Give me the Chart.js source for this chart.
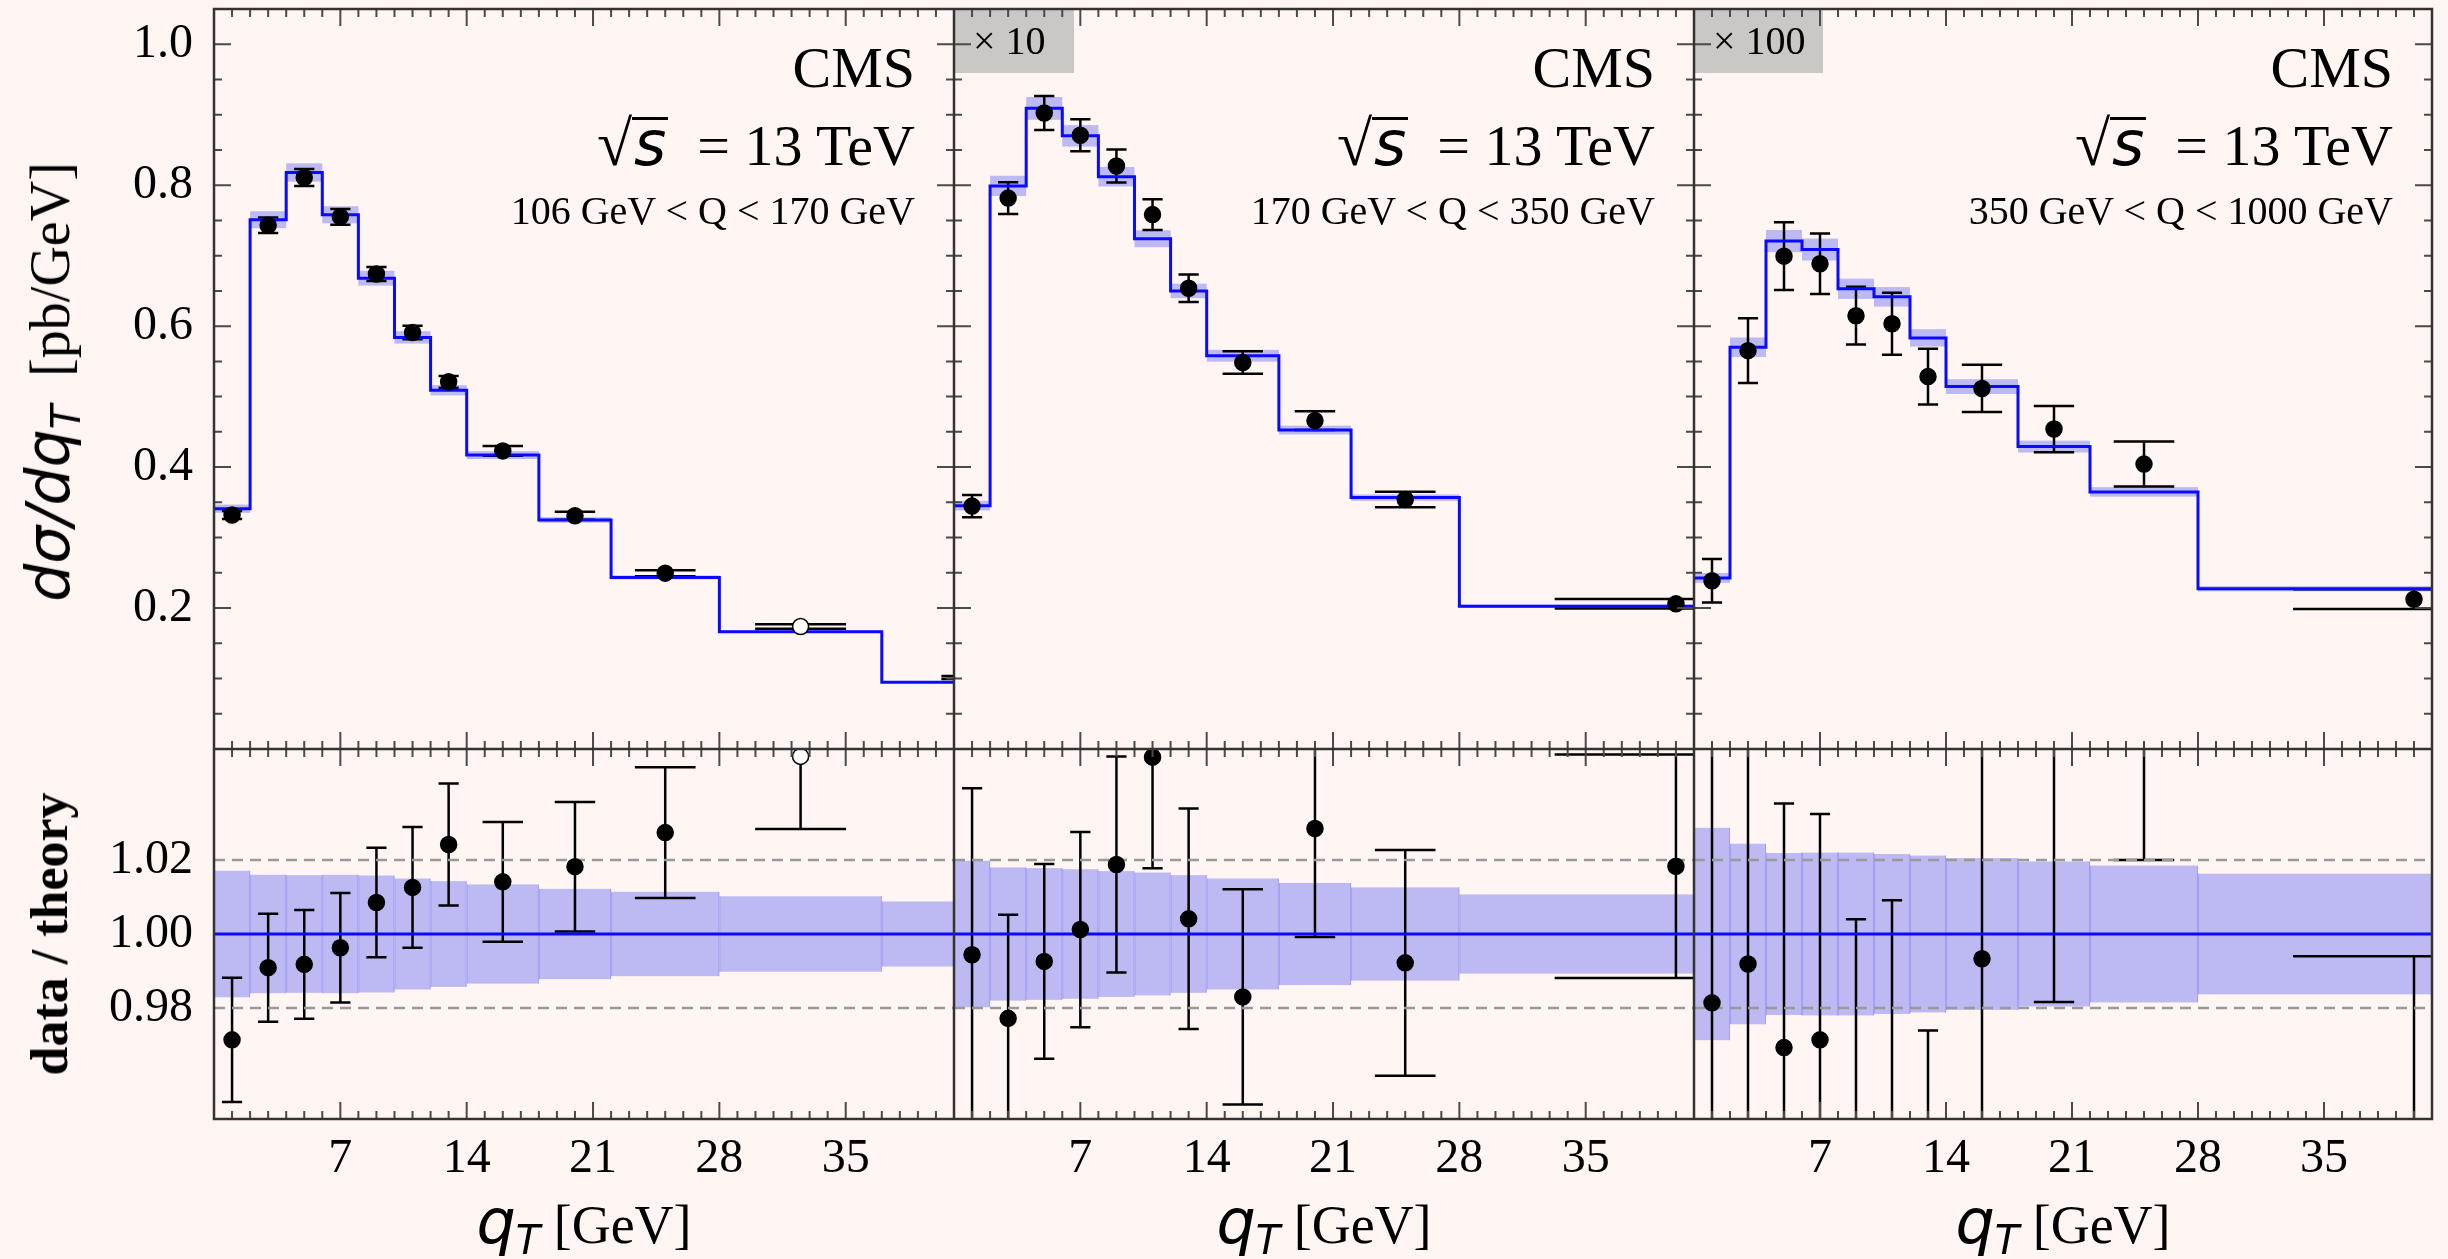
<!DOCTYPE html>
<html>
<head>
<meta charset="utf-8">
<script src="https://cdn.jsdelivr.net/npm/chart.js@4.4.0/dist/chart.umd.min.js"></script>
<style>
  body { margin: 0; background: #fff6f3; width: 2448px; height: 1259px; overflow: hidden; position: relative; font-family: 'Liberation Serif', serif; }
  canvas { position: absolute; z-index: 1; }
  .box { position: absolute; background: #cbc7c5; z-index: 0; }
  .txt { position: absolute; left: 0; top: 0; z-index: 2; white-space: nowrap; line-height: 1; color: #000; }
  .it { font-family: 'DejaVu Sans', sans-serif; font-style: italic; }
  .mk { display: inline-block; width: 0; height: 0; }
  .ovl { display: inline-block; border-top: 3px solid #000; line-height: 0.78em; padding: 0 2px; }
</style>
</head>
<body>
<canvas id="t1" width="954" height="749" style="left:0;top:0"></canvas>
<canvas id="t2" width="740" height="749" style="left:954px;top:0"></canvas>
<canvas id="t3" width="740" height="749" style="left:1694px;top:0"></canvas>
<canvas id="b1" width="954" height="510" style="left:0;top:749px"></canvas>
<canvas id="b2" width="740" height="510" style="left:954px;top:749px"></canvas>
<canvas id="b3" width="740" height="510" style="left:1694px;top:749px"></canvas>
<script>
// q_T bin edges [GeV]
const binEdges1 = [0, 2, 4, 6, 8, 10, 12, 14, 18, 22, 28, 37, 52];
const binEdges23 = [0, 2, 4, 6, 8, 10, 12, 14, 18, 22, 28, 52];

// 106 < Q < 170 GeV
const theory1 = [0.341, 0.751, 0.818, 0.758, 0.668, 0.584, 0.509, 0.417, 0.325, 0.2435, 0.1664, 0.0946];
const data1 = [0.332, 0.743, 0.811, 0.755, 0.674, 0.591, 0.521, 0.423, 0.331, 0.2495, 0.1738, 0.1016];
const dataErr1 = [0.0057, 0.011, 0.012, 0.0112, 0.0099, 0.0095, 0.0084, 0.0068, 0.0057, 0.0043, 0.0033, 0.0021];
const ratio1 = [0.9714, 0.9909, 0.9918, 0.9963, 1.0085, 1.0126, 1.0242, 1.0141, 1.0182, 1.0274, 1.048, null];
const ratioErr1 = [0.0168, 0.0146, 0.0147, 0.0148, 0.0148, 0.0163, 0.0165, 0.0162, 0.0175, 0.0177, 0.0196, null];
const band1 = [0.0171, 0.016, 0.0159, 0.016, 0.0158, 0.015, 0.0143, 0.0134, 0.0122, 0.0114, 0.0102, 0.0088];
const hollow1 = [10];

// 170 < Q < 350 GeV  (x 10)
const theory2 = [0.3453, 0.799, 0.909, 0.870, 0.812, 0.724, 0.650, 0.558, 0.4526, 0.3567, 0.2026];
const data2 = [0.3447, 0.7817, 0.9024, 0.8709, 0.8273, 0.7583, 0.6537, 0.5484, 0.466, 0.3541, 0.206];
const dataErr2 = [0.0158, 0.0225, 0.024, 0.0228, 0.0235, 0.0218, 0.0194, 0.016, 0.0134, 0.011, 0.0067];
const ratio2 = [0.9944, 0.9772, 0.9926, 1.0012, 1.0188, 1.0478, 1.0041, 0.983, 1.0285, 0.9922, 1.0183];
const ratioErr2 = [0.045, 0.028, 0.0263, 0.0264, 0.0292, 0.030, 0.0298, 0.0291, 0.0293, 0.0305, 0.0302];
const band2 = [0.0198, 0.018, 0.0178, 0.0175, 0.017, 0.0166, 0.0159, 0.015, 0.0138, 0.0126, 0.0107];

// 350 < Q < 1000 GeV  (x 100)
const theory3 = [0.2428, 0.570, 0.7207, 0.7087, 0.653, 0.6416, 0.5833, 0.5142, 0.4291, 0.3648, 0.2274];
const data3 = [0.2388, 0.5652, 0.6993, 0.6885, 0.6148, 0.6034, 0.5284, 0.5116, 0.454, 0.4043, 0.2125];
const dataErr3 = [0.0308, 0.046, 0.048, 0.043, 0.041, 0.044, 0.0395, 0.0335, 0.0328, 0.032, 0.014];
const ratio3 = [0.9814, 0.9919, 0.9693, 0.9714, 0.9415, 0.9405, 0.9059, 0.9933, 1.058, 1.108, 0.934];
const ratioErr3 = [0.127, 0.081, 0.066, 0.061, 0.0625, 0.0686, 0.068, 0.065, 0.0764, 0.088, 0.06];
const band3 = [0.0287, 0.0244, 0.0219, 0.022, 0.022, 0.0216, 0.0212, 0.0205, 0.0196, 0.0185, 0.0163];

const qLabels = ['106 GeV < Q < 170 GeV', '170 GeV < Q < 350 GeV', '350 GeV < Q < 1000 GeV'];
const scaleLabels = [null, '× 10', '× 100'];

const xTicks = [7, 14, 21, 28, 35];
const yTicksTop = [0.2, 0.4, 0.6, 0.8, 1.0];
const yTicksRatio = [0.98, 1.00, 1.02];
const guideLines = [0.98, 1.02];

const bandColor = '#bdb9f2';
const capFrac = 0.28;

const hepPlugin = {
  id: 'hep',
  beforeDatasetsDraw(chart, args, o) {
    const { ctx, chartArea: a, scales: { x, y } } = chart;
    ctx.save();
    ctx.beginPath();
    ctx.rect(a.left, a.top, a.right - a.left, a.bottom - a.top);
    ctx.clip();
    o.edges.slice(0, -1).forEach((lo, i) => {
      const mid = o.ref ? o.ref[i] : 1;
      const x0 = x.getPixelForValue(lo), x1 = x.getPixelForValue(o.edges[i + 1]);
      const y0 = y.getPixelForValue(mid * (1 + o.band[i])), y1 = y.getPixelForValue(mid * (1 - o.band[i]));
      ctx.fillStyle = bandColor;
      ctx.fillRect(x0, y0, x1 - x0, y1 - y0);
      if (o.bandEdges) {
        // faint bin separators
        ctx.strokeStyle = 'rgba(120,110,250,0.35)';
        ctx.lineWidth = 1;
        ctx.beginPath();
        ctx.moveTo(x0 + 0.5, y0); ctx.lineTo(x0 + 0.5, y1);
        ctx.moveTo(x1 - 0.5, y0); ctx.lineTo(x1 - 0.5, y1);
        ctx.stroke();
      }
    });
    ctx.strokeStyle = '#000';
    ctx.lineWidth = 2.5;
    o.values.forEach((v, i) => {
      if (v == null) return;
      const lo = o.edges[i], hi = o.edges[i + 1];
      const c = (lo + hi) / 2, w = capFrac * (hi - lo);
      const xc = x.getPixelForValue(c), xl = x.getPixelForValue(c - w), xr = x.getPixelForValue(c + w);
      const yt = y.getPixelForValue(v + o.errors[i]), yb = y.getPixelForValue(v - o.errors[i]);
      ctx.beginPath();
      ctx.moveTo(xc, yt); ctx.lineTo(xc, yb);
      ctx.moveTo(xl, yt); ctx.lineTo(xr, yt);
      ctx.moveTo(xl, yb); ctx.lineTo(xr, yb);
      ctx.stroke();
    });
    ctx.restore();
  },
  afterDraw(chart, args, o) {
    const { ctx, chartArea: a, scales: { x, y } } = chart;
    ctx.save();
    ctx.strokeStyle = '#4a4a4a';
    ctx.lineWidth = 2;
    ctx.beginPath();
    for (let q = 1; q < x.max; q++) {
      const len = q % 7 === 0 ? 17 : 8;
      const px = x.getPixelForValue(q);
      ctx.moveTo(px, a.top); ctx.lineTo(px, a.top + len);
      ctx.moveTo(px, a.bottom); ctx.lineTo(px, a.bottom - len);
    }
    if (o.yTicks) {
      for (let k = 1; k * 0.05 < y.max; k++) {
        const len = k % 4 === 0 ? 17 : 8;
        const py = y.getPixelForValue(k * 0.05);
        ctx.moveTo(a.left, py); ctx.lineTo(a.left + len, py);
        ctx.moveTo(a.right, py); ctx.lineTo(a.right - len, py);
      }
    }
    ctx.stroke();
    ctx.strokeStyle = '#333';
    ctx.lineWidth = 2.5;
    ctx.strokeRect(a.left, a.top, a.right - a.left, a.bottom - a.top);
    ctx.restore();
  }
};

const tickFont = { family: 'Liberation Serif', size: 48 };

function xScale(show) {
  const s = {
    type: 'linear', min: 0, max: 41, display: show,
    grid: { display: false, drawTicks: false, tickLength: 0 },
    border: { display: false },
    ticks: { font: tickFont, color: '#000', padding: 12, autoSkip: false, maxRotation: 0, callback: v => String(v) },
    afterBuildTicks: sc => { sc.ticks = xTicks.map(v => ({ value: v })); }
  };
  if (show) s.afterFit = sc => { sc.height = 140; sc.paddingLeft = 0; sc.paddingRight = 0; sc.paddingTop = 0; sc.paddingBottom = 0; };
  return s;
}

function yScale(show, min, max, ticks, dec) {
  const s = {
    type: 'linear', min: min, max: max, display: show,
    grid: { display: false, drawTicks: false, tickLength: 0 },
    border: { display: false },
    ticks: { font: tickFont, color: '#000', padding: 21, autoSkip: false, callback: v => v.toFixed(dec) },
    afterBuildTicks: sc => { sc.ticks = ticks.map(v => ({ value: v })); }
  };
  if (show) s.afterFit = sc => { sc.width = 214; sc.paddingLeft = 0; sc.paddingRight = 0; sc.paddingTop = 0; sc.paddingBottom = 0; };
  return s;
}

function pointSet(edges, values, hollow) {
  return {
    data: edges.slice(0, -1).map((lo, i) => ({ x: (lo + edges[i + 1]) / 2, y: values[i] })),
    showLine: false,
    pointRadius: 8,
    pointHoverRadius: 8,
    pointBorderWidth: 1.5,
    pointBorderColor: '#000',
    pointBackgroundColor: values.map((v, i) => hollow.includes(i) ? '#fff' : '#000'),
    clip: 10
  };
}

function stepSet(edges, values) {
  const pts = values.map((v, i) => ({ x: edges[i], y: v }));
  pts.push({ x: edges[edges.length - 1], y: values[values.length - 1] });
  return { data: pts, stepped: true, borderColor: '#0a0aff', borderWidth: 3, pointRadius: 0, clip: 0 };
}

function flatSet(v, color, width, dash) {
  return { data: [{ x: 0, y: v }, { x: 41, y: v }], borderColor: color, borderWidth: width, borderDash: dash || [], pointRadius: 0, clip: 0 };
}

function makeChart(id, datasets, hep, scales, padding) {
  return new Chart(document.getElementById(id), {
    type: 'line',
    data: { datasets: datasets },
    options: {
      responsive: false, animation: false, devicePixelRatio: 1, events: [],
      layout: { padding: padding, autoPadding: false },
      plugins: { legend: { display: false }, tooltip: { enabled: false }, hep: hep },
      scales: scales
    },
    plugins: [hepPlugin]
  });
}

const panels = [
  { edges: binEdges1, theory: theory1, data: data1, err: dataErr1, ratio: ratio1, ratioErr: ratioErr1, band: band1, hollow: hollow1 },
  { edges: binEdges23, theory: theory2, data: data2, err: dataErr2, ratio: ratio2, ratioErr: ratioErr2, band: band2, hollow: [] },
  { edges: binEdges23, theory: theory3, data: data3, err: dataErr3, ratio: ratio3, ratioErr: ratioErr3, band: band3, hollow: [] }
];

const topCharts = [], botCharts = [];
panels.forEach((p, k) => {
  const first = k === 0, last = k === 2;
  topCharts.push(makeChart('t' + (k + 1),
    [pointSet(p.edges, p.data, p.hollow), stepSet(p.edges, p.theory)],
    { edges: p.edges, ref: p.theory, band: p.band, values: p.data, errors: p.err, yTicks: true },
    { x: xScale(false), y: yScale(first, 0, 1.05, yTicksTop, 1) },
    { top: 9, right: last ? 2 : 0, left: 0, bottom: 0 }));
  botCharts.push(makeChart('b' + (k + 1),
    [pointSet(p.edges, p.ratio, p.hollow), flatSet(1, '#0a0aff', 3),
     ...guideLines.map(g => flatSet(g, '#999', 2.5, [11, 7]))],
    { edges: p.edges, ref: null, band: p.band, values: p.ratio, errors: p.ratioErr, yTicks: false, bandEdges: true },
    { x: xScale(true), y: yScale(first, 0.95, 1.05, yTicksRatio, 2) },
    { top: 0, right: last ? 2 : 0, left: 0, bottom: 0 }));
});

// ---- text overlays ----
function putText(html, o) {
  const el = document.createElement('div');
  el.className = 'txt';
  el.style.fontSize = o.size + 'px';
  if (o.weight) el.style.fontWeight = o.weight;
  el.innerHTML = html + '<span class="mk"></span>';
  document.body.appendChild(el);
  const r = el.getBoundingClientRect();
  const m = el.querySelector('.mk').getBoundingClientRect();
  el.style.top = (o.baseline - (m.bottom - r.top)) + 'px';
  if (o.right != null) el.style.left = (o.right - r.width) + 'px';
  else if (o.center != null) el.style.left = (o.center - r.width / 2) + 'px';
  else el.style.left = o.left + 'px';
  return el;
}

function putRotated(html, o) {
  const el = document.createElement('div');
  el.className = 'txt';
  el.style.fontSize = o.size + 'px';
  if (o.weight) el.style.fontWeight = o.weight;
  el.innerHTML = html;
  el.style.left = o.cx + 'px';
  el.style.top = o.cy + 'px';
  el.style.transform = 'translate(-50%,-50%) rotate(-90deg)';
  document.body.appendChild(el);
  return el;
}

function area(c) {
  const a = c.chartArea;
  const l = c.canvas.offsetLeft, t = c.canvas.offsetTop;
  return { left: l + a.left, right: l + a.right, top: t + a.top, bottom: t + a.bottom };
}

topCharts.forEach((c, k) => {
  const a = area(c);
  const r = a.right - 39;
  putText('CMS', { size: 58, baseline: 87, right: r });
  putText('<span style="font-size:64px">√</span><span class="it ovl" style="font-size:62px">s</span>&nbsp;&nbsp;= 13 TeV', { size: 58, baseline: 165, right: r });
  putText(qLabels[k], { size: 40, baseline: 224, right: r });
  if (scaleLabels[k]) {
    const b = document.createElement('div');
    b.className = 'box';
    b.style.left = a.left + 'px';
    b.style.top = a.top + 'px';
    b.style.width = (k === 1 ? 120 : 129) + 'px';
    b.style.height = (73 - a.top) + 'px';
    document.body.appendChild(b);
    putText(scaleLabels[k], { size: 40, baseline: 54, left: a.left + 19 });
  }
});

botCharts.forEach(c => {
  const a = area(c);
  putText('<span class="it" style="font-size:62px">q</span><span class="it" style="font-size:40px;vertical-align:-11px">T</span>&nbsp;[GeV]',
    { size: 54, baseline: 1243, center: (a.left + a.right) / 2 });
});

putRotated('<span class="it" style="font-size:60px">dσ/dq</span><span class="it" style="font-size:40px;vertical-align:-11px">T</span>&nbsp;&nbsp;[pb/GeV]',
  { size: 56, cx: 52, cy: 382 });
putRotated('data / theory', { size: 52, weight: 'bold', cx: 50, cy: 934 });
</script>
</body>
</html>
